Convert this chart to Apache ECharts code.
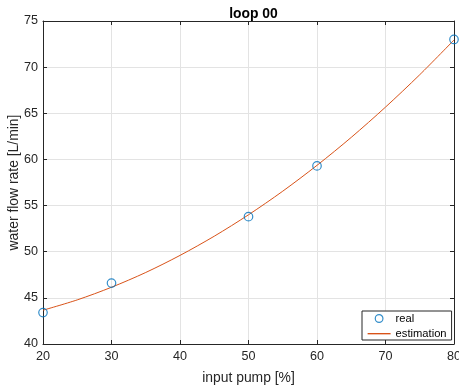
<!DOCTYPE html>
<html>
<head>
<meta charset="utf-8">
<script src="https://cdn.jsdelivr.net/npm/echarts@6/dist/echarts.min.js"></script>
<style>
  html, body { margin: 0; padding: 0; background: #fff; }
  #chart { width: 459px; height: 391px; }
</style>
</head>
<body>
<div id="chart"></div>
<script>
// measured points
const pumpReal = [20, 30, 50, 60, 80]
const flowReal = [43.4, 46.6, 53.8, 59.3, 73.0]
// estimation curve, estimated every 5 % and checked against the picture
const pumpEst = [20, 25, 30, 35, 40, 45, 50, 55, 60, 65, 70, 75, 80]
const flowEst = [43.66, 44.78, 46.15, 47.75, 49.6, 51.68, 54.0, 56.56, 59.36, 62.39, 65.67, 69.18, 72.94]
const xTicks = [20, 30, 40, 50, 60, 70, 80]
const yTicks = [40, 45, 50, 55, 60, 65, 70, 75]

const FONT = 'Liberation Sans, Arial, Helvetica, sans-serif'
const AXIS_COLOR = '#262626'
const GRID_COLOR = '#e3e3e3'
const BLUE = '#0072BD'
const ORANGE = '#D95319'

const chart = echarts.init(document.getElementById('chart'))

const tickCommon = {
  axisLine: { show: true, lineStyle: { color: AXIS_COLOR, width: 1 } },
  axisTick: { show: true, inside: true, length: 4, lineStyle: { color: AXIS_COLOR } }
}

chart.setOption({
  animation: false,
  backgroundColor: '#fff',
  title: {
    text: 'loop 00',
    left: 248.5,
    top: 2,
    textAlign: 'center',
    textStyle: { fontFamily: FONT, fontSize: 13.9, fontWeight: 'bold', color: '#000' }
  },
  grid: { left: 43, right: 5, top: 21, bottom: 47, outerBoundsMode: 'none', containLabel: false },
  legend: {
    orient: 'vertical',
    left: 362,
    top: 311,
    backgroundColor: '#fff',
    borderColor: AXIS_COLOR,
    borderWidth: 1,
    borderRadius: 0,
    padding: [2, 5, 1, 5],
    itemGap: 4,
    itemWidth: 23,
    itemHeight: 9,
    textStyle: { fontFamily: FONT, fontSize: 11.2, color: '#000' },
    data: [
      {
        name: 'real', icon: 'path://M0,0M24,9M12,4.5m-4,0a4,4 0 1,0 8,0a4,4 0 1,0 -8,0',
        itemStyle: { color: 'rgba(0,0,0,0)', borderColor: BLUE, borderWidth: 1.2 }
      },
      {
        name: 'estimation', icon: 'path://M0,0M0,4H24V5.4H0ZM24,9',
        itemStyle: { color: ORANGE, borderColor: ORANGE, borderWidth: 0, opacity: 1 }
      }
    ]
  },
  xAxis: [{
    type: 'value',
    min: 20, max: 80, interval: 10,
    position: 'bottom',
    ...tickCommon,
    axisLabel: {
      margin: 6, color: AXIS_COLOR, fontFamily: FONT, fontSize: 12.6,
      formatter: v => xTicks.includes(v) ? String(v) : ''
    },
    splitLine: { show: true, lineStyle: { color: GRID_COLOR } },
    name: 'input pump [%]',
    nameLocation: 'middle',
    nameGap: 27,
    nameMoveOverlap: false,
    nameTextStyle: { color: AXIS_COLOR, fontFamily: FONT, fontSize: 13.9 }
  }, {
    type: 'value',
    min: 20, max: 80, interval: 10,
    position: 'top',
    ...tickCommon,
    axisLabel: { show: false },
    splitLine: { show: false }
  }],
  yAxis: [{
    type: 'value',
    min: 40, max: 75, interval: 5,
    position: 'left',
    ...tickCommon,
    axisLabel: {
      margin: 5, color: AXIS_COLOR, fontFamily: FONT, fontSize: 12.6,
      formatter: v => yTicks.includes(v) ? String(v) : ''
    },
    splitLine: { show: true, lineStyle: { color: GRID_COLOR } },
    name: 'water flow rate [L/min]',
    nameLocation: 'middle',
    nameGap: 22,
    nameMoveOverlap: false,
    nameTextStyle: { color: AXIS_COLOR, fontFamily: FONT, fontSize: 13.9 }
  }, {
    type: 'value',
    min: 40, max: 75, interval: 5,
    position: 'right',
    ...tickCommon,
    axisLabel: { show: false },
    splitLine: { show: false }
  }],
  series: [{
    name: 'estimation',
    type: 'line',
    data: pumpEst.map((x, i) => [x, flowEst[i]]),
    smooth: 0.3,
    showSymbol: false,
    symbol: 'none',
    lineStyle: { color: ORANGE, width: 1 },
    itemStyle: { color: ORANGE },
    z: 2
  }, {
    name: 'real',
    type: 'scatter',
    data: pumpReal.map((x, i) => [x, flowReal[i]]),
    symbol: 'circle',
    symbolSize: 8.5,
    itemStyle: { color: 'rgba(0,0,0,0)', borderColor: BLUE, borderWidth: 1.2 },
    z: 3
  }]
})
</script>
</body>
</html>
